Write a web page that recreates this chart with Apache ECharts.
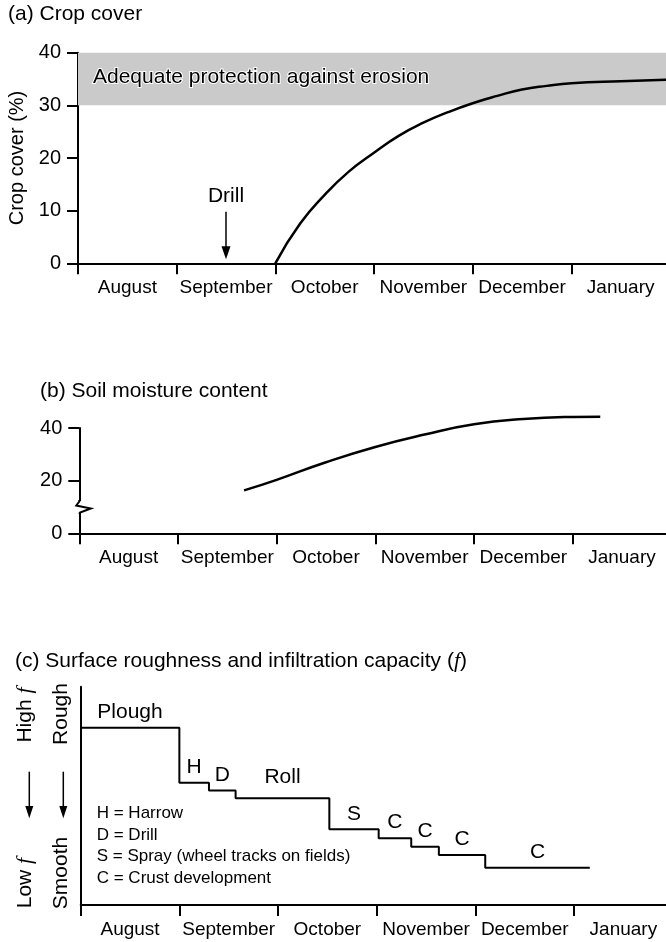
<!DOCTYPE html>
<html><head><meta charset="utf-8">
<script src="https://cdn.jsdelivr.net/npm/echarts@6/dist/echarts.min.js"></script>
<style>html,body{margin:0;padding:0;background:#fff}#c{width:666px;height:942px}</style>
</head><body><div id="c"></div>
<script>
// ---------- data ----------
const months = ['August', 'September', 'October', 'November', 'December', 'January'];

// (a) crop cover (%) vs time in months since 1 August
const cropMonth = [2.0, 2.25, 2.5, 2.75, 3.0, 3.25, 3.5, 3.75, 4.0, 4.25, 4.5, 4.75, 5.0, 5.5, 6.0];
const cropValue = [0, 7.5, 13, 17.5, 21, 24.2, 26.7, 28.7, 30.4, 31.8, 33, 33.7, 34.2, 34.6, 34.9];
const protectionBand = [30, 40];
const cropTicks = [0, 10, 20, 30, 40];
const drillMonth = 1.5;
const drillArrow = [9.8, 2.0];

// (b) soil moisture content
const soilMonth = [1.67, 2.0, 2.5, 3.0, 3.5, 4.0, 4.5, 5.0, 5.28];
const soilValue = [16.3, 20.3, 27, 32.8, 37.5, 41.4, 43.4, 44.2, 44.3];
const soilTicks = [0, 20, 40];
const soilBreakAt = 10;

// (c) surface roughness (relative level, 0-100)
const stepStart = [0, 1.0, 1.3, 1.57, 2.52, 3.02, 3.35, 3.63, 4.1];
const stepEnd = 5.16;
const stepLevel = [81.2, 56, 52.4, 48.9, 34.7, 30.6, 26.7, 22.9, 17.1];
const stepLabel = ['Plough', 'H', 'D', 'Roll', 'S', 'C', 'C', 'C', 'C'];
const legendLines = ['H = Harrow', 'D = Drill', 'S = Spray (wheel tracks on fields)', 'C = Crust development'];

// ---------- chart ----------
const FONT = "'Liberation Sans', Arial, sans-serif";
const BLACK = '#000';
const chart = echarts.init(document.getElementById('c'), null, {renderer: 'canvas'});

const grids = [
  {left: 78, top: 52.7, width: 592, height: 210.6},
  {left: 79.3, top: 428, width: 592, height: 105.3},
  {left: 80.7, top: 686.7, width: 592, height: 218.3}
].map(g => Object.assign({containLabel: false, outerBoundsMode: 'none'}, g));

function catAxis(gi) {
  return {
    type: 'category', gridIndex: gi, data: months, boundaryGap: true, position: 'bottom',
    axisLine: {show: true, onZero: false, lineStyle: {color: BLACK, width: 2}},
    axisTick: {show: true, interval: 0, length: 11, lineStyle: {color: BLACK, width: 2}},
    axisLabel: {interval: 0, margin: 15, fontSize: 19, color: BLACK, fontFamily: FONT},
    splitLine: {show: false}
  };
}
function valXAxis(gi) {
  return {type: 'value', gridIndex: gi, min: 0, max: 6, show: false, splitLine: {show: false}};
}
const xAxes = [catAxis(0), valXAxis(0), catAxis(1), valXAxis(1), catAxis(2), valXAxis(2)];

const yAxes = [
  {
    type: 'value', gridIndex: 0, min: cropTicks[0], max: cropTicks[cropTicks.length - 1], interval: 10,
    name: 'Crop cover (%)', nameLocation: 'middle', nameGap: 49,
    nameTextStyle: {fontSize: 20, color: BLACK, fontFamily: FONT},
    axisLine: {show: true, onZero: false, lineStyle: {color: BLACK, width: 2}},
    axisTick: {show: true, length: 11, lineStyle: {color: BLACK, width: 2}},
    axisLabel: {margin: 17, fontSize: 20, color: BLACK, fontFamily: FONT},
    splitLine: {show: false}
  },
  {
    type: 'value', gridIndex: 1, min: soilTicks[0], max: soilTicks[soilTicks.length - 1], interval: 20,
    axisLine: {show: true, onZero: false, lineStyle: {color: BLACK, width: 2}},
    axisTick: {show: true, length: 11, lineStyle: {color: BLACK, width: 2}},
    axisLabel: {margin: 17, fontSize: 20, color: BLACK, fontFamily: FONT},
    splitLine: {show: false}
  },
  {
    type: 'value', gridIndex: 2, min: 0, max: 100,
    axisLine: {show: true, onZero: false, lineStyle: {color: BLACK, width: 2}},
    axisTick: {show: false}, axisLabel: {show: false}, splitLine: {show: false}
  }
];

const stepData = stepStart.map((s, i) => [s, stepLevel[i]]).concat([[stepEnd, stepLevel[stepLevel.length - 1]]]);
const stepLabelData = stepStart.map((s, i) => {
  const e = i + 1 < stepStart.length ? stepStart[i + 1] : stepEnd;
  const item = {value: [(s + e) / 2, stepLevel[i]], name: stepLabel[i]};
  if (stepLabel[i] === 'Roll') item.label = {distance: 11};
  return item;
});

const series = [
  {
    type: 'line', xAxisIndex: 1, yAxisIndex: 0, smooth: 0.5, symbol: 'none', clip: false,
    data: cropMonth.map((m, i) => [m, cropValue[i]]),
    lineStyle: {color: BLACK, width: 2.5}, z: 5,
    markArea: {
      silent: true,
      itemStyle: {color: '#cacaca'},
      label: {show: true, position: 'insideLeft', distance: 15, offset: [0, -2],
        formatter: 'Adequate protection against erosion', fontSize: 21, color: BLACK, fontFamily: FONT,
        textBorderColor: '#fff', textBorderWidth: 2},
      data: [[{yAxis: protectionBand[0]}, {yAxis: protectionBand[1]}]]
    },
    markLine: {
      silent: true, symbol: ['none', 'triangle'], symbolSize: [9, 13],
      lineStyle: {color: BLACK, width: 1.5, type: 'solid'},
      label: {show: true, position: 'start', distance: 5, formatter: 'Drill', fontSize: 21, color: BLACK, fontFamily: FONT},
      data: [[{coord: [drillMonth, drillArrow[0]]}, {coord: [drillMonth, drillArrow[1]]}]]
    }
  },
  {
    type: 'line', xAxisIndex: 3, yAxisIndex: 1, smooth: 0.5, symbol: 'none', clip: false,
    data: soilMonth.map((m, i) => [m, soilValue[i]]),
    lineStyle: {color: BLACK, width: 2.5}
  },
  {
    type: 'custom', xAxisIndex: 3, yAxisIndex: 1, clip: false, silent: true, z: 10,
    data: [[0, soilBreakAt]],
    renderItem: function (params, api) {
      const p = api.coord([api.value(0), api.value(1)]);
      return {
        type: 'group', children: [
          {type: 'rect', shape: {x: p[0] - 4, y: p[1] - 6, width: 8, height: 12}, style: {fill: '#fff'}},
          {type: 'polyline', shape: {points: [[p[0], p[1] - 7], [p[0], p[1] - 5.5], [p[0] - 3, p[1] - 1.5],
            [p[0] + 11.5, p[1] + 1.5], [p[0] + 0.7, p[1] + 5.5], [p[0], p[1] + 7]]},
            style: {stroke: BLACK, lineWidth: 2, fill: null}}
        ]
      };
    }
  },
  {
    type: 'line', xAxisIndex: 5, yAxisIndex: 2, step: 'end', symbol: 'none',
    data: stepData, lineStyle: {color: BLACK, width: 2}
  },
  {
    type: 'scatter', xAxisIndex: 5, yAxisIndex: 2, symbolSize: 0, silent: true,
    itemStyle: {opacity: 1},
    data: stepLabelData,
    label: {show: true, position: 'top', distance: 5, formatter: p => p.name, opacity: 1,
      fontSize: 21, color: BLACK, fontFamily: FONT}
  }
];

const graphics = [
  {type: 'text', left: 8, top: 4, style: {text: '(a) Crop cover', fontSize: 21, fill: BLACK, fontFamily: FONT}},
  {type: 'text', left: 40, top: 381, style: {text: '(b) Soil moisture content', fontSize: 21, fill: BLACK, fontFamily: FONT}},
  {type: 'text', left: 15, top: 650, style: {
    text: '(c) Surface roughness and infiltration capacity ({i|f})', fontSize: 21, fill: BLACK, fontFamily: FONT,
    rich: {i: {fontStyle: 'italic', fontFamily: "'Liberation Serif', serif", fontSize: 22, fill: BLACK}}}}
];
// (c) side labels
const side = [
  {t: 'High {i|f}', x: 25, y: 715},
  {t: 'Rough', x: 61.7, y: 714},
  {t: 'Low {i|f}', x: 25, y: 883},
  {t: 'Smooth', x: 61.7, y: 873}
];
side.forEach(s => graphics.push({
  type: 'text', x: s.x, y: s.y, rotation: Math.PI / 2,
  style: {text: s.t, fontSize: 21, fill: BLACK, fontFamily: FONT, align: 'center', verticalAlign: 'middle',
    rich: {i: {fontStyle: 'italic', fontFamily: "'Liberation Serif', serif", fontSize: 22, fill: BLACK}}}
}));
[29.3, 63.3].forEach(x => {
  graphics.push({type: 'line', shape: {x1: x, y1: 771.7, x2: x, y2: 807}, style: {stroke: BLACK, lineWidth: 1.5}});
  graphics.push({type: 'polygon', shape: {points: [[x - 4, 806], [x + 4, 806], [x, 818.3]]}, style: {fill: BLACK}});
});
legendLines.forEach((t, i) => graphics.push({
  type: 'text', x: 96.7, y: 813.3 + i * 21.7,
  style: {text: t, fontSize: 17, fill: BLACK, fontFamily: FONT, align: 'left', verticalAlign: 'middle'}
}));

chart.setOption({
  animation: false,
  backgroundColor: '#fff',
  textStyle: {fontFamily: FONT},
  grid: grids,
  xAxis: xAxes,
  yAxis: yAxes,
  series: series,
  graphic: graphics
});
</script>
</body></html>
